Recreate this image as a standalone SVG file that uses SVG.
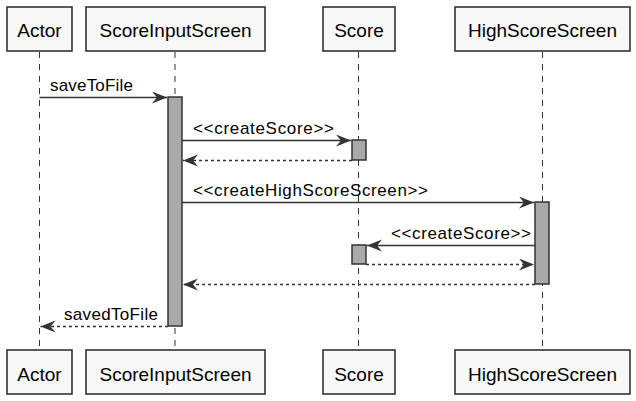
<svg xmlns="http://www.w3.org/2000/svg" width="636" height="401" viewBox="0 0 636 401">
<defs>
<marker id="ah" markerUnits="userSpaceOnUse" markerWidth="18" markerHeight="14" refX="15" refY="6" orient="auto" viewBox="0 0 18 14">
<path d="M0,0 L15,6 L0,12 L5,6 Z" fill="#333333"/>
</marker>
</defs>
<style>
.box{fill:#F8F8F8;stroke:#333333;stroke-width:1.6}
.pt{font-family:"Liberation Sans",Arial,sans-serif;font-size:19px;fill:#000;text-anchor:middle}
.life{stroke:#333333;stroke-width:1;stroke-dasharray:6,6}
.act{fill:#A9A9A9;stroke:#333333;stroke-width:1.5}
.msg{stroke:#333333;stroke-width:1.5;fill:none;marker-end:url(#ah)}
.ret{stroke:#333333;stroke-width:1.5;fill:none;stroke-dasharray:3,3;marker-end:url(#ah)}
.ml{font-family:"Liberation Sans",Arial,sans-serif;font-size:17px;fill:#000}
</style>
<g id="lifelines">
<line class="life" x1="39.5" y1="52" x2="39.5" y2="350"/>
<line class="life" x1="175" y1="52" x2="175" y2="350"/>
<line class="life" x1="358.5" y1="52" x2="358.5" y2="350"/>
<line class="life" x1="542.5" y1="52" x2="542.5" y2="350"/>
</g>
<g id="Actor">
<rect class="box" x="7" y="7" width="65" height="44"/>
<text class="pt" x="39.5" y="37">Actor</text>
<rect class="box" x="7" y="350" width="65" height="44"/>
<text class="pt" x="39.5" y="381">Actor</text>
</g>
<g id="ScoreInputScreen">
<rect class="box" x="86" y="7" width="179" height="44"/>
<text class="pt" x="175.5" y="37">ScoreInputScreen</text>
<rect class="box" x="86" y="350" width="179" height="44"/>
<text class="pt" x="175.5" y="381">ScoreInputScreen</text>
<rect class="act" x="168" y="97" width="14" height="229"/>
</g>
<g id="Score">
<rect class="box" x="323" y="7" width="72" height="44"/>
<text class="pt" x="359" y="37">Score</text>
<rect class="box" x="323" y="350" width="72" height="44"/>
<text class="pt" x="359" y="381">Score</text>
<rect class="act" x="352" y="140" width="14" height="20"/>
<rect class="act" x="352" y="245" width="14" height="19"/>
</g>
<g id="HighScoreScreen">
<rect class="box" x="455" y="7" width="175" height="44"/>
<text class="pt" x="542.5" y="37">HighScoreScreen</text>
<rect class="box" x="455" y="350" width="175" height="44"/>
<text class="pt" x="542.5" y="381">HighScoreScreen</text>
<rect class="act" x="535" y="202" width="14" height="82"/>
</g>
<g id="connectors">
<line class="msg" x1="39.5" y1="97.5" x2="167" y2="97.5"/>
<text class="ml" x="50" y="91" textLength="83" lengthAdjust="spacing">saveToFile</text>
<line class="msg" x1="182" y1="140.5" x2="351" y2="140.5"/>
<text class="ml" x="193" y="134" textLength="141" lengthAdjust="spacing">&lt;&lt;createScore&gt;&gt;</text>
<line class="ret" x1="352" y1="160.5" x2="183" y2="160.5"/>
<line class="msg" x1="182" y1="202.5" x2="534" y2="202.5"/>
<text class="ml" x="193" y="196" textLength="235" lengthAdjust="spacing">&lt;&lt;createHighScoreScreen&gt;&gt;</text>
<line class="msg" x1="535" y1="245.5" x2="367" y2="245.5"/>
<text class="ml" x="391" y="239" textLength="140" lengthAdjust="spacing">&lt;&lt;createScore&gt;&gt;</text>
<line class="ret" x1="366" y1="264.5" x2="534" y2="264.5"/>
<line class="ret" x1="535" y1="284.5" x2="183" y2="284.5"/>
<line class="ret" x1="168" y1="326.5" x2="40.5" y2="326.5"/>
<text class="ml" x="64" y="320" textLength="94" lengthAdjust="spacing">savedToFile</text>
</g>
</svg>
